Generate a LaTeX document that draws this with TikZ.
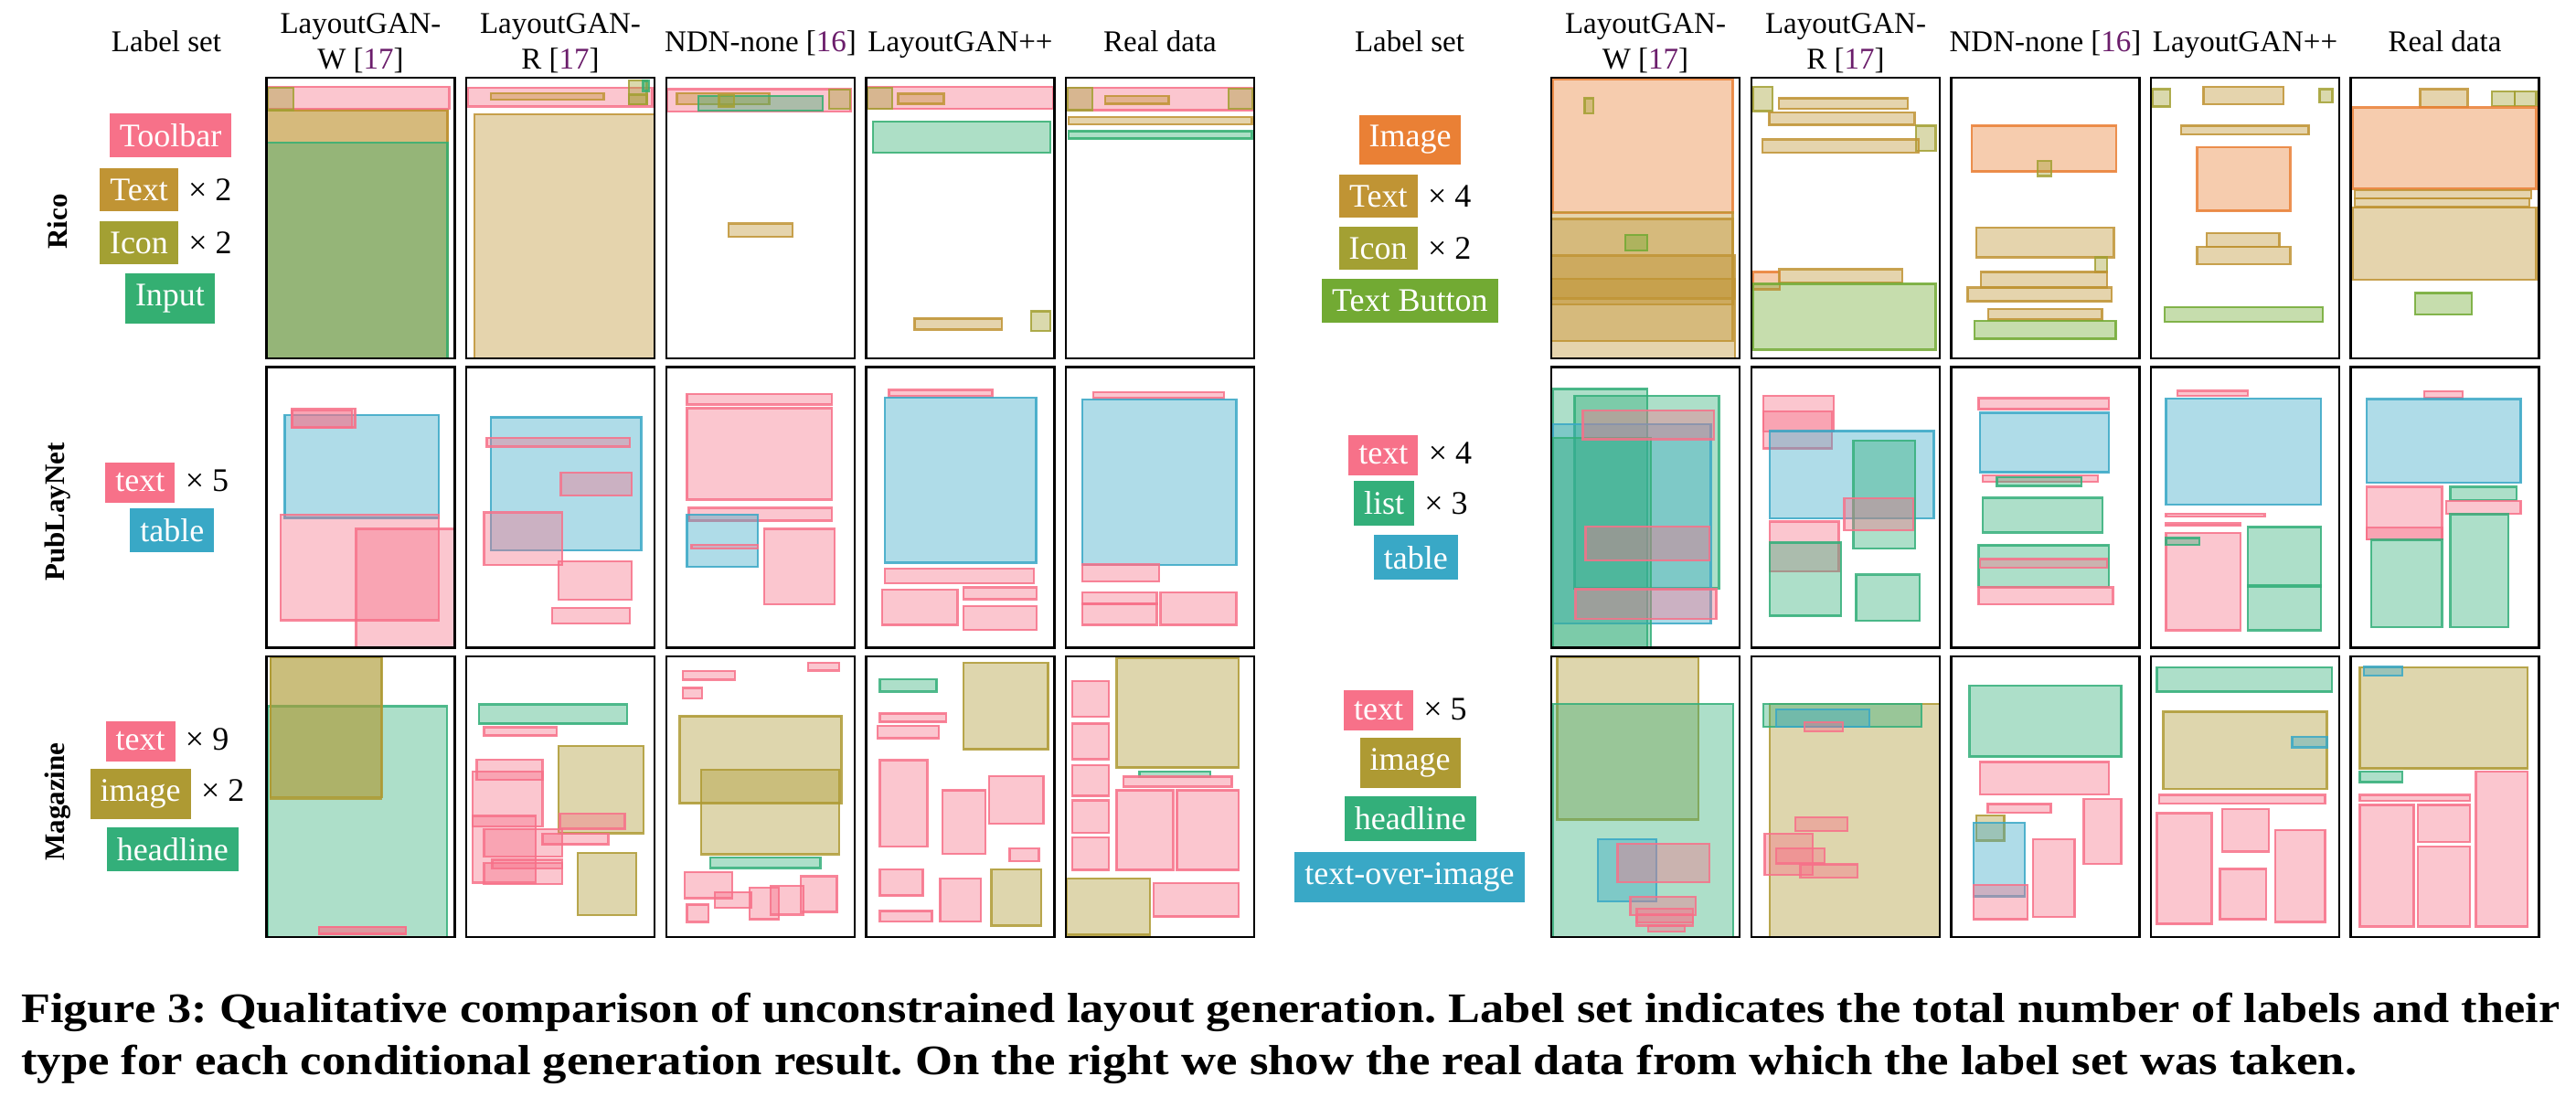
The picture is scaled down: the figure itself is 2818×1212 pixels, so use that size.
\documentclass[tikz,border=0pt]{standalone}
\usepackage{fontspec}
\setmainfont{Liberation Serif}
\usepackage{graphicx}
\definecolor{cpink}{HTML}{F77189}
\definecolor{ctext}{HTML}{C09434}
\definecolor{cicon}{HTML}{A3A033}
\definecolor{cinput}{HTML}{34AF72}
\definecolor{cimage}{HTML}{EA8035}
\definecolor{cbutton}{HTML}{72AA33}
\definecolor{ctable}{HTML}{39A8C6}
\definecolor{clist}{HTML}{33AF7A}
\definecolor{cmimg}{HTML}{AE9A33}
\definecolor{chead}{HTML}{33AF7A}
\definecolor{cciteref}{HTML}{6B1D6B}
\tikzset{
  lay/.style={line width=2.4pt, fill opacity=0.4, draw opacity=0.85},
  pk/.style={lay, draw=cpink, fill=cpink},
  gd/.style={lay, draw=ctext, fill=ctext},
  ic/.style={lay, draw=cicon, fill=cicon},
  gr/.style={lay, draw=cinput, fill=cinput},
  og/.style={lay, draw=cimage, fill=cimage},
  tbn/.style={lay, draw=cbutton, fill=cbutton},
  bl/.style={lay, draw=ctable, fill=ctable},
  ls/.style={lay, draw=clist, fill=clist},
  mi/.style={lay, draw=cmimg, fill=cmimg},
  hl/.style={lay, draw=chead, fill=chead},
  toi/.style={lay, draw=ctable, fill=ctable},
  frame/.style={draw=black, line width=2.6pt},
  chip/.style={inner xsep=11pt, inner ysep=11.7pt, text=white, font=\fontsize{36}{40}\selectfont},
  times/.style={anchor=base west, inner sep=0pt, xshift=11pt, font=\fontsize{36}{40}\selectfont},
  head/.style={anchor=base, inner sep=0pt, font=\fontsize{33}{39}\selectfont},
  rowlab/.style={rotate=90, inner sep=0pt, font=\bfseries\fontsize{31}{36}\selectfont},
  capt/.style={anchor=base west, inner sep=0pt, font=\bfseries\fontsize{46}{54}\selectfont}
}
\newcommand\lrect[5]{\filldraw[#1] (#2,#3) rectangle (#4,#5);}
\newcommand\lpanel[3]{%
  \begin{scope}[shift={(#1,#2)},x={(206pt,0pt)},y={(0pt,-307pt)}]
    \clip (0,0) rectangle (1,1);
    #3
  \end{scope}
  \draw[frame] (#1,#2) rectangle ++(206,307);}
\newcommand\cref[1]{[\textcolor{cciteref}{#1}]}
\begin{document}
\frenchspacing
\begin{tikzpicture}[x=1pt,y=-1pt]
\useasboundingbox (0,0) rectangle (2818,1212);
\fill[white] (0,0) rectangle (2818,1212);

% ---------- headers ----------
\node[head] (hl0) at (182,56.7) {Label set};
\node[head] (hl1a) at (394.5,37) {LayoutGAN-};
\node[head] (hl1b) at (394.5,76) {W \cref{17}};
\node[head] (hl2a) at (613,37) {LayoutGAN-};
\node[head] (hl2b) at (613,76) {R \cref{17}};
\node[head] (hl3) at (832,56.7) {NDN-none \cref{16}};
\node[head] (hl4) at (1050.5,56.7) {LayoutGAN++};
\node[head] (hl5) at (1269,56.7) {Real data};

\node[head] (hr0) at (1542,56.7) {Label set};
\node[head] (hr1a) at (1800,37) {LayoutGAN-};
\node[head] (hr1b) at (1800,76) {W \cref{17}};
\node[head] (hr2a) at (2019,37) {LayoutGAN-};
\node[head] (hr2b) at (2019,76) {R \cref{17}};
\node[head] (hr3) at (2237.5,56.7) {NDN-none \cref{16}};
\node[head] (hr4) at (2456,56.7) {LayoutGAN++};
\node[head] (hr5) at (2674.5,56.7) {Real data};

% ---------- row labels ----------
\node[rowlab] (rico) at (63,242.5) {Rico};
\node[rowlab] (pub) at (63,560) {PubLayNet};
\node[rowlab] (mag) at (63,877) {Magazine};

% ---------- chips left ----------
\node[chip, fill=cpink] (a1) at (186.5,148) {Toolbar};
\node[chip, fill=ctext] (a2) at (152,207.5) {Text};
\node[times] (a2x) at (a2.base east) {× 2};
\node[chip, fill=cicon] (a3) at (152,265.5) {Icon};
\node[times] (a3x) at (a3.base east) {× 2};
\node[chip, fill=cinput] (a4) at (186,326.5) {Input};

\node[chip, fill=cpink] (b1) at (153.4,527.7) {text};
\node[times] (b1x) at (b1.base east) {× 5};
\node[chip, fill=ctable] (b2) at (188.4,580) {table};

\node[chip, fill=cpink] (c1) at (153.6,811) {text};
\node[times] (c1x) at (c1.base east) {× 9};
\node[chip, fill=cmimg] (c2) at (153.7,868.5) {image};
\node[times] (c2x) at (c2.base east) {× 2};
\node[chip, fill=chead] (c3) at (188.8,929) {headline};

% ---------- chips right ----------
\node[chip, fill=cimage] (d1) at (1542.5,153) {Image};
\node[chip, fill=ctext] (d2) at (1507.9,214.5) {Text};
\node[times] (d2x) at (d2.base east) {× 4};
\node[chip, fill=cicon] (d3) at (1507.6,271.5) {Icon};
\node[times] (d3x) at (d3.base east) {× 2};
\node[chip, fill=cbutton] (d4) at (1542.4,329) {Text Button};

\node[chip, fill=cpink] (e1) at (1513.4,498) {text};
\node[times] (e1x) at (e1.base east) {× 4};
\node[chip, fill=clist] (e2) at (1514,550.4) {list};
\node[times] (e2x) at (e2.base east) {× 3};
\node[chip, fill=ctable] (e3) at (1548.8,609.7) {table};

\node[chip, fill=cpink] (f1) at (1508,777.3) {text};
\node[times] (f1x) at (f1.base east) {× 5};
\node[chip, fill=cmimg] (f2) at (1542.5,834.7) {image};
\node[chip, fill=chead] (f3) at (1542.9,895.4) {headline};
\node[chip, fill=ctable] (f4) at (1542,959.7) {text-over-image};

% ================= LEFT, ROW 1 (Rico) =================
\lpanel{291.5}{85}{
\lrect{gd}{0}{0.116}{0.962}{1.0}
\lrect{gd}{0}{0.116}{0.962}{1.0}
\lrect{gr}{0}{0.231}{0.962}{1.0}
\lrect{pk}{0.006}{0.033}{0.97}{0.111}
\lrect{ic}{0.006}{0.035}{0.144}{0.116}
}
\lpanel{510}{85}{
\lrect{pk}{0.009}{0.035}{0.988}{0.102}
\lrect{gd}{0.13}{0.056}{0.73}{0.078}
\lrect{ic}{0.864}{0.009}{0.959}{0.095}
\lrect{ic}{0.864}{0.06}{0.959}{0.095}
\lrect{gr}{0.94}{0.011}{0.97}{0.047}
\lrect{gd}{0.044}{0.131}{1.0}{1.0}
}
\lpanel{729}{85}{
\lrect{pk}{0.006}{0.041}{0.979}{0.12}
\lrect{gd}{0.056}{0.056}{0.546}{0.094}
\lrect{gr}{0.171}{0.066}{0.829}{0.118}
\lrect{ic}{0.28}{0.061}{0.36}{0.103}
\lrect{ic}{0.864}{0.042}{0.976}{0.11}
\lrect{gd}{0.33}{0.52}{0.67}{0.566}
}
\lpanel{947.5}{85}{
\lrect{pk}{0.006}{0.033}{0.994}{0.111}
\lrect{ic}{0.006}{0.035}{0.139}{0.11}
\lrect{gd}{0.17}{0.057}{0.412}{0.093}
\lrect{gr}{0.035}{0.156}{0.979}{0.268}
\lrect{gd}{0.257}{0.858}{0.72}{0.897}
\lrect{ic}{0.876}{0.832}{0.979}{0.903}
}
\lpanel{1166}{85}{
\lrect{pk}{0.006}{0.035}{0.994}{0.116}
\lrect{ic}{0.009}{0.035}{0.141}{0.116}
\lrect{ic}{0.865}{0.04}{0.991}{0.111}
\lrect{gd}{0.209}{0.065}{0.547}{0.093}
\lrect{gd}{0.015}{0.14}{0.988}{0.167}
\lrect{gr}{0.015}{0.19}{0.988}{0.217}
}

% ================= RIGHT, ROW 1 (Rico) =================
\lpanel{1697}{85}{
\lrect{og}{0.007}{0.005}{0.964}{0.483}
\lrect{gd}{0}{0.478}{0.964}{0.938}
\lrect{gd}{0}{0.503}{0.964}{0.808}
\lrect{gd}{0}{0.634}{0.975}{0.786}
\lrect{gd}{0}{0.716}{0.975}{1.0}
\lrect{ic}{0.177}{0.073}{0.224}{0.127}
\lrect{tbn}{0.394}{0.561}{0.509}{0.615}
}
\lpanel{1916}{85}{
\lrect{ic}{0.007}{0.033}{0.112}{0.119}
\lrect{gd}{0.145}{0.073}{0.83}{0.11}
\lrect{gd}{0.094}{0.123}{0.866}{0.168}
\lrect{ic}{0.873}{0.171}{0.978}{0.26}
\lrect{gd}{0.058}{0.22}{0.888}{0.268}
\lrect{og}{0.007}{0.692}{0.149}{0.754}
\lrect{gd}{0.145}{0.683}{0.801}{0.73}
\lrect{tbn}{0.007}{0.734}{0.978}{0.969}
}
\lpanel{2134.5}{85}{
\lrect{og}{0.108}{0.171}{0.877}{0.334}
\lrect{ic}{0.458}{0.296}{0.531}{0.35}
\lrect{gd}{0.134}{0.535}{0.863}{0.64}
\lrect{ic}{0.765}{0.64}{0.827}{0.692}
\lrect{gd}{0.159}{0.692}{0.827}{0.748}
\lrect{gd}{0.087}{0.748}{0.852}{0.797}
\lrect{gd}{0.195}{0.824}{0.801}{0.862}
\lrect{tbn}{0.123}{0.866}{0.874}{0.93}
}
\lpanel{2353}{85}{
\lrect{ic}{0.007}{0.041}{0.101}{0.103}
\lrect{gd}{0.278}{0.033}{0.704}{0.095}
\lrect{ic}{0.895}{0.041}{0.964}{0.087}
\lrect{gd}{0.159}{0.171}{0.838}{0.201}
\lrect{og}{0.245}{0.247}{0.74}{0.474}
\lrect{gd}{0.296}{0.553}{0.682}{0.602}
\lrect{gd}{0.245}{0.602}{0.74}{0.665}
\lrect{tbn}{0.072}{0.817}{0.913}{0.87}
}
\lpanel{2571.5}{85}{
\lrect{gd}{0.368}{0.041}{0.621}{0.105}
\lrect{ic}{0.751}{0.049}{0.87}{0.101}
\lrect{ic}{0.87}{0.049}{0.986}{0.101}
\lrect{og}{0.011}{0.106}{0.986}{0.396}
\lrect{gd}{0.022}{0.401}{0.96}{0.43}
\lrect{gd}{0.022}{0.43}{0.95}{0.461}
\lrect{gd}{0.011}{0.463}{0.986}{0.719}
\lrect{tbn}{0.343}{0.767}{0.643}{0.843}
}

% ================= LEFT, ROW 2 (PubLayNet) =================
\lpanel{291.5}{401.5}{
\lrect{bl}{0.097}{0.171}{0.915}{0.538}
\lrect{pk}{0.135}{0.148}{0.471}{0.215}
\lrect{pk}{0.135}{0.155}{0.455}{0.217}
\lrect{pk}{0.074}{0.527}{0.915}{0.902}
\lrect{pk}{0.476}{0.577}{1.0}{1.0}
}
\lpanel{510}{401.5}{
\lrect{bl}{0.13}{0.179}{0.929}{0.654}
\lrect{pk}{0.109}{0.253}{0.87}{0.283}
\lrect{pk}{0.503}{0.377}{0.879}{0.458}
\lrect{pk}{0.095}{0.518}{0.509}{0.705}
\lrect{pk}{0.491}{0.692}{0.879}{0.829}
\lrect{pk}{0.456}{0.859}{0.87}{0.913}
}
\lpanel{729}{401.5}{
\lrect{pk}{0.109}{0.096}{0.879}{0.133}
\lrect{pk}{0.109}{0.147}{0.879}{0.472}
\lrect{pk}{0.118}{0.502}{0.879}{0.547}
\lrect{bl}{0.109}{0.527}{0.484}{0.712}
\lrect{pk}{0.133}{0.634}{0.484}{0.647}
\lrect{pk}{0.519}{0.577}{0.894}{0.846}
}
\lpanel{947.5}{401.5}{
\lrect{pk}{0.121}{0.082}{0.67}{0.104}
\lrect{bl}{0.099}{0.109}{0.903}{0.697}
\lrect{pk}{0.099}{0.718}{0.892}{0.77}
\lrect{pk}{0.084}{0.793}{0.485}{0.919}
\lrect{pk}{0.516}{0.785}{0.905}{0.827}
\lrect{pk}{0.516}{0.851}{0.905}{0.936}
}
\lpanel{1166}{401.5}{
\lrect{pk}{0.147}{0.09}{0.841}{0.111}
\lrect{bl}{0.086}{0.115}{0.905}{0.705}
\lrect{pk}{0.086}{0.704}{0.495}{0.764}
\lrect{pk}{0.086}{0.802}{0.482}{0.843}
\lrect{pk}{0.086}{0.843}{0.482}{0.919}
\lrect{pk}{0.503}{0.802}{0.905}{0.919}
}

% ================= RIGHT, ROW 2 (PubLayNet) =================
\lpanel{1697}{401.5}{
\lrect{ls}{0.009}{0.078}{0.511}{1.0}
\lrect{ls}{0.123}{0.103}{0.89}{0.788}
\lrect{bl}{0.009}{0.203}{0.846}{0.913}
\lrect{ls}{0.009}{0.252}{0.529}{1.0}
\lrect{pk}{0.167}{0.154}{0.863}{0.257}
\lrect{pk}{0.181}{0.568}{0.841}{0.688}
\lrect{pk}{0.128}{0.791}{0.877}{0.897}
}
\lpanel{1916}{401.5}{
\lrect{pk}{0.062}{0.103}{0.436}{0.23}
\lrect{pk}{0.062}{0.158}{0.427}{0.29}
\lrect{bl}{0.097}{0.228}{0.969}{0.54}
\lrect{ls}{0.542}{0.263}{0.868}{0.647}
\lrect{pk}{0.493}{0.467}{0.859}{0.582}
\lrect{pk}{0.097}{0.551}{0.463}{0.728}
\lrect{ls}{0.097}{0.625}{0.476}{0.886}
\lrect{ls}{0.555}{0.74}{0.894}{0.904}
}
\lpanel{2134.5}{401.5}{
\lrect{pk}{0.145}{0.111}{0.837}{0.15}
\lrect{bl}{0.154}{0.163}{0.837}{0.375}
\lrect{pk}{0.167}{0.386}{0.78}{0.409}
\lrect{ls}{0.242}{0.393}{0.692}{0.424}
\lrect{ls}{0.167}{0.466}{0.802}{0.589}
\lrect{ls}{0.145}{0.635}{0.837}{0.783}
\lrect{pk}{0.154}{0.684}{0.828}{0.714}
\lrect{pk}{0.145}{0.785}{0.859}{0.846}
}
\lpanel{2353}{401.5}{
\lrect{pk}{0.141}{0.085}{0.515}{0.102}
\lrect{bl}{0.079}{0.112}{0.903}{0.491}
\lrect{pk}{0.079}{0.523}{0.604}{0.533}
\lrect{pk}{0.079}{0.557}{0.476}{0.566}
\lrect{pk}{0.079}{0.592}{0.476}{0.938}
\lrect{ls}{0.079}{0.609}{0.256}{0.633}
\lrect{ls}{0.515}{0.57}{0.903}{0.783}
\lrect{ls}{0.515}{0.777}{0.903}{0.938}
}
\lpanel{2571.5}{401.5}{
\lrect{pk}{0.392}{0.087}{0.595}{0.111}
\lrect{bl}{0.084}{0.114}{0.903}{0.413}
\lrect{pk}{0.084}{0.427}{0.485}{0.614}
\lrect{pk}{0.084}{0.571}{0.485}{0.614}
\lrect{ls}{0.529}{0.427}{0.881}{0.473}
\lrect{pk}{0.507}{0.478}{0.903}{0.523}
\lrect{ls}{0.11}{0.616}{0.485}{0.927}
\lrect{ls}{0.529}{0.525}{0.837}{0.927}
}

% ================= LEFT, ROW 3 (Magazine) =================
\lpanel{291.5}{718}{
\lrect{hl}{0.006}{0.178}{0.959}{1.0}
\lrect{mi}{0.021}{0.002}{0.615}{0.502}
\lrect{mi}{0.021}{0.002}{0.609}{0.508}
\lrect{pk}{0.279}{0.964}{0.741}{0.988}
\lrect{pk}{0.279}{0.964}{0.741}{0.988}
}
\lpanel{510}{718}{
\lrect{hl}{0.068}{0.171}{0.855}{0.24}
\lrect{pk}{0.095}{0.253}{0.482}{0.282}
\lrect{mi}{0.491}{0.32}{0.941}{0.63}
\lrect{mi}{0.592}{0.7}{0.902}{0.921}
\lrect{pk}{0.056}{0.369}{0.405}{0.44}
\lrect{pk}{0.033}{0.411}{0.405}{0.605}
\lrect{pk}{0.033}{0.568}{0.37}{0.806}
\lrect{pk}{0.095}{0.616}{0.509}{0.714}
\lrect{pk}{0.497}{0.561}{0.843}{0.614}
\lrect{pk}{0.405}{0.632}{0.754}{0.67}
\lrect{pk}{0.139}{0.725}{0.509}{0.755}
\lrect{pk}{0.095}{0.736}{0.509}{0.812}
}
\lpanel{729}{718}{
\lrect{pk}{0.752}{0.022}{0.917}{0.05}
\lrect{pk}{0.086}{0.053}{0.363}{0.083}
\lrect{pk}{0.086}{0.112}{0.189}{0.15}
\lrect{mi}{0.071}{0.213}{0.929}{0.523}
\lrect{mi}{0.183}{0.404}{0.917}{0.705}
\lrect{hl}{0.233}{0.717}{0.817}{0.754}
\lrect{pk}{0.097}{0.768}{0.348}{0.861}
\lrect{pk}{0.257}{0.841}{0.451}{0.896}
\lrect{pk}{0.442}{0.825}{0.596}{0.937}
\lrect{pk}{0.552}{0.817}{0.729}{0.92}
\lrect{pk}{0.714}{0.784}{0.906}{0.91}
\lrect{pk}{0.109}{0.884}{0.224}{0.946}
}
\lpanel{947.5}{718}{
\lrect{hl}{0.073}{0.081}{0.374}{0.125}
\lrect{mi}{0.516}{0.023}{0.966}{0.331}
\lrect{pk}{0.073}{0.203}{0.424}{0.233}
\lrect{pk}{0.061}{0.247}{0.387}{0.291}
\lrect{pk}{0.073}{0.37}{0.325}{0.678}
\lrect{pk}{0.405}{0.477}{0.633}{0.703}
\lrect{pk}{0.652}{0.426}{0.942}{0.597}
\lrect{pk}{0.762}{0.684}{0.917}{0.729}
\lrect{pk}{0.073}{0.758}{0.301}{0.852}
\lrect{pk}{0.073}{0.907}{0.35}{0.944}
\lrect{pk}{0.393}{0.791}{0.61}{0.944}
\lrect{mi}{0.665}{0.758}{0.929}{0.959}
}
\lpanel{1166}{718}{
\lrect{mi}{0.27}{0.007}{0.916}{0.396}
\lrect{pk}{0.034}{0.088}{0.227}{0.214}
\lrect{pk}{0.034}{0.239}{0.227}{0.366}
\lrect{pk}{0.034}{0.387}{0.227}{0.497}
\lrect{pk}{0.034}{0.513}{0.227}{0.628}
\lrect{pk}{0.034}{0.644}{0.227}{0.761}
\lrect{hl}{0.39}{0.411}{0.768}{0.43}
\lrect{pk}{0.306}{0.428}{0.881}{0.464}
\lrect{pk}{0.269}{0.477}{0.57}{0.761}
\lrect{pk}{0.589}{0.477}{0.916}{0.761}
\lrect{mi}{0.006}{0.791}{0.447}{0.992}
\lrect{pk}{0.466}{0.807}{0.916}{0.927}
}

% ================= RIGHT, ROW 3 (Magazine) =================
\lpanel{1697}{718}{
\lrect{mi}{0.031}{0.002}{0.78}{0.581}
\lrect{hl}{0.009}{0.17}{0.965}{1.0}
\lrect{toi}{0.247}{0.652}{0.559}{0.872}
\lrect{pk}{0.352}{0.667}{0.841}{0.804}
\lrect{pk}{0.419}{0.857}{0.767}{0.921}
\lrect{pk}{0.454}{0.899}{0.753}{0.948}
\lrect{pk}{0.454}{0.92}{0.753}{0.959}
\lrect{pk}{0.515}{0.959}{0.709}{0.98}
}
\lpanel{1916}{718}{
\lrect{mi}{0.097}{0.17}{1.0}{1.0}
\lrect{hl}{0.062}{0.17}{0.903}{0.251}
\lrect{toi}{0.132}{0.188}{0.626}{0.251}
\lrect{pk}{0.282}{0.235}{0.485}{0.268}
\lrect{pk}{0.233}{0.574}{0.511}{0.623}
\lrect{pk}{0.07}{0.632}{0.326}{0.779}
\lrect{pk}{0.132}{0.684}{0.388}{0.738}
\lrect{pk}{0.26}{0.741}{0.564}{0.788}
}
\lpanel{2134.5}{718}{
\lrect{hl}{0.097}{0.104}{0.903}{0.357}
\lrect{pk}{0.154}{0.376}{0.837}{0.491}
\lrect{pk}{0.194}{0.526}{0.529}{0.557}
\lrect{pk}{0.704}{0.509}{0.903}{0.739}
\lrect{mi}{0.132}{0.567}{0.282}{0.656}
\lrect{toi}{0.119}{0.592}{0.392}{0.855}
\lrect{pk}{0.119}{0.815}{0.405}{0.937}
\lrect{pk}{0.435}{0.652}{0.656}{0.929}
}
\lpanel{2353}{718}{
\lrect{hl}{0.031}{0.039}{0.96}{0.126}
\lrect{mi}{0.066}{0.197}{0.934}{0.472}
\lrect{toi}{0.749}{0.286}{0.934}{0.324}
\lrect{pk}{0.044}{0.494}{0.925}{0.524}
\lrect{pk}{0.031}{0.559}{0.322}{0.953}
\lrect{pk}{0.379}{0.543}{0.626}{0.695}
\lrect{pk}{0.366}{0.757}{0.612}{0.937}
\lrect{pk}{0.661}{0.618}{0.925}{0.946}
}
\lpanel{2571.5}{718}{
\lrect{mi}{0.048}{0.039}{0.938}{0.399}
\lrect{toi}{0.07}{0.037}{0.273}{0.069}
\lrect{hl}{0.048}{0.411}{0.273}{0.448}
\lrect{pk}{0.048}{0.494}{0.634}{0.515}
\lrect{pk}{0.048}{0.529}{0.335}{0.962}
\lrect{pk}{0.357}{0.529}{0.634}{0.662}
\lrect{pk}{0.357}{0.677}{0.634}{0.962}
\lrect{pk}{0.665}{0.411}{0.938}{0.962}
}

% ---------- caption ----------
\node[capt] (cap1) at (23,1118) {\resizebox{2777pt}{\height}{Figure 3: Qualitative comparison of unconstrained layout generation. Label set indicates the total number of labels and their}};
\node[capt] (cap2) at (23,1175) {\resizebox{2555pt}{\height}{type for each conditional generation result. On the right we show the real data from which the label set was taken.}};
\end{tikzpicture}
\end{document}
